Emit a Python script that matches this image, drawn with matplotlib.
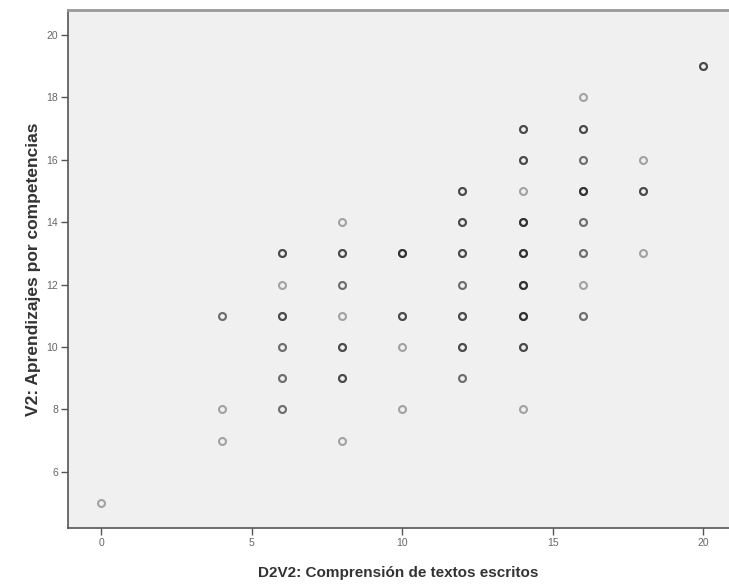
import numpy as np
import matplotlib.pyplot as plt

plt.rcParams['font.family'] = ['Liberation Sans', 'DejaVu Sans']

# D2V2 score, V2 score, number of cases at that point (overplotted)
x_vals = [0,
          4, 4, 4,
          6, 6, 6, 6, 6, 6,
          8, 8, 8, 8, 8, 8, 8,
          10, 10, 10, 10,
          12, 12, 12, 12, 12, 12, 12,
          14, 14, 14, 14, 14, 14, 14, 14, 14,
          16, 16, 16, 16, 16, 16, 16, 16,
          18, 18, 18,
          20]
y_vals = [5,
          11, 8, 7,
          13, 12, 11, 10, 9, 8,
          14, 13, 12, 11, 10, 9, 7,
          13, 11, 10, 8,
          15, 14, 13, 12, 11, 10, 9,
          17, 16, 15, 14, 13, 12, 11, 10, 8,
          18, 17, 16, 15, 14, 13, 12, 11,
          16, 15, 13,
          19]
counts = [1,
          2, 1, 1,
          3, 1, 3, 2, 2, 2,
          1, 3, 2, 1, 3, 3, 1,
          4, 3, 1, 1,
          3, 3, 3, 2, 3, 3, 2,
          3, 3, 1, 4, 4, 4, 4, 3, 1,
          1, 3, 2, 4, 2, 2, 1, 2,
          1, 3, 1,
          3]

x_ticks = [0, 5, 10, 15, 20]
y_ticks = [6, 8, 10, 12, 14, 16, 18, 20]

xs = np.repeat(x_vals, counts)
ys = np.repeat(y_vals, counts)

fig = plt.figure(figsize=(7.29, 5.87), dpi=100)
ax = fig.add_axes([68/729, 59/587, 661/729, 518/587])
ax.set_facecolor('#f0f0f0')

ax.plot(xs, ys, linestyle='none', marker='o', markersize=5,
        markerfacecolor='none', markeredgecolor=(0, 0, 0, 0.32),
        markeredgewidth=1.5)

ax.set_xlim(-1.1, 20.86)
ax.set_ylim(4.2, 20.8)
ax.set_xticks(x_ticks)
ax.set_yticks(y_ticks)

ax.spines['right'].set_visible(False)
ax.spines['top'].set_color('#999999')
ax.spines['top'].set_linewidth(2)
ax.spines['left'].set_color('#555555')
ax.spines['bottom'].set_color('#555555')
ax.spines['left'].set_linewidth(1.2)
ax.spines['bottom'].set_linewidth(1.2)

ax.tick_params(axis='both', direction='out', length=5, width=1,
               color='#555555', labelsize=7.5, labelcolor='#666666', pad=2)

ax.set_xlabel('D2V2: Comprensión de textos escritos', fontsize=11,
              fontweight='bold', color='#333333', labelpad=13)
ax.set_ylabel('V2: Aprendizajes por competencias', fontsize=12.5,
              fontweight='bold', color='#333333', labelpad=4)

fig.savefig('out.png', dpi=100)
